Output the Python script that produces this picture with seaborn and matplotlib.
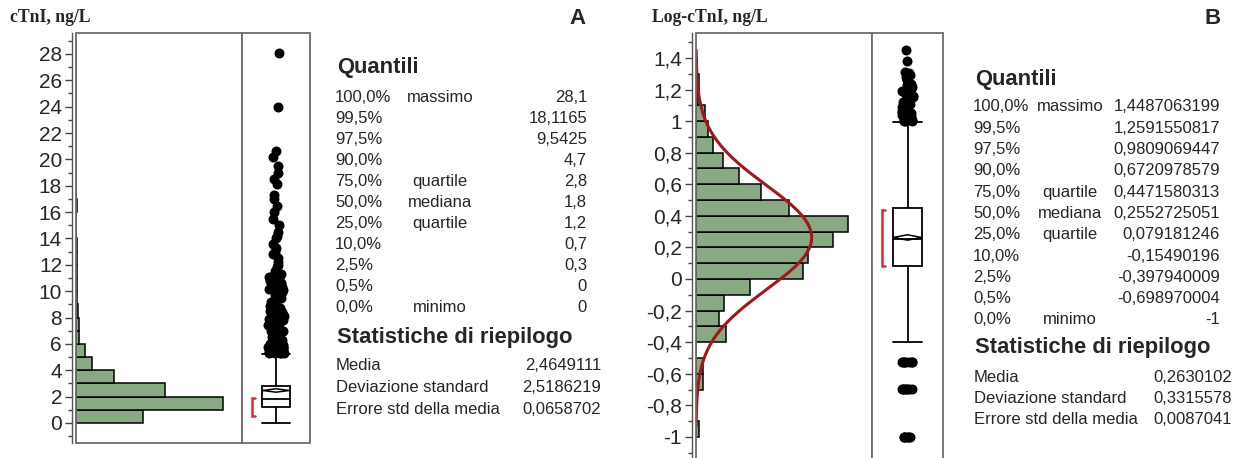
import numpy as np
import matplotlib
matplotlib.use("Agg")
import matplotlib.pyplot as plt
import seaborn as sns
from matplotlib.patches import Rectangle
from matplotlib.ticker import MultipleLocator, FuncFormatter, FixedLocator

np.random.seed(7)

# ---------------- Data: panel A (cTnI, ng/L) ----------------
a_bin_edges = list(range(0, 30))
a_counts = [258, 568, 344, 148, 63, 35, 12, 11, 8, 4, 2, 2, 2, 2, 0, 0, 4, 1, 1, 1,
            1, 0, 0, 0, 1, 0, 0, 0, 1]
a_q1, a_median, a_q3 = 1.2, 1.8, 2.8
a_whisker_lo, a_whisker_hi = 0.0, 5.2
a_mean, a_sem = 2.4649111, 0.0658702
a_shortest_half = (0.5, 1.9)
a_outliers = [5.3, 5.3, 5.3, 5.3, 5.3, 5.4, 5.4, 5.4, 5.4, 5.5, 5.5, 5.5, 5.5, 5.6, 5.6,
              5.6, 5.7, 5.7, 5.7, 5.8, 5.8, 5.8, 5.9, 5.9, 5.9, 6.0, 6.0, 6.0, 6.0, 6.1,
              6.1, 6.2, 6.2, 6.2, 6.3, 6.3, 6.4, 6.4, 6.5, 6.5, 6.6, 6.6, 6.7, 6.7, 6.8,
              6.8, 6.9, 7.0, 7.0, 7.0, 7.1, 7.2, 7.2, 7.3, 7.4, 7.4, 7.5, 7.5, 7.6, 7.7,
              7.8, 7.8, 7.9, 8.0, 8.0, 8.0, 8.1, 8.2, 8.3, 8.3, 8.4, 8.5, 8.5, 8.6, 8.7,
              8.8, 8.9, 9.0, 9.0, 9.1, 9.2, 9.3, 9.4, 9.5, 9.5, 9.6, 9.7, 9.8, 9.9,
              10.0, 10.0, 10.1, 10.2, 10.3, 10.4, 10.5, 10.6, 10.7, 10.8, 11.0, 11.1,
              11.2, 11.3, 11.5, 11.8, 12.0, 12.2, 12.5, 12.8, 13.0, 13.3, 13.6, 14.0,
              14.2, 14.5, 15.0, 15.5, 16.0, 16.5, 17.0, 17.3, 18.1, 18.5, 19.0, 19.5,
              20.2, 20.6, 24.0, 28.1]

# ---------------- Data: panel B (Log-cTnI) ----------------
b_bin_edges = [-1.0, -0.9, -0.8, -0.7, -0.6, -0.5, -0.4, -0.3, -0.2, -0.1, 0.0, 0.1,
               0.2, 0.3, 0.4, 0.5, 0.6, 0.7, 0.8, 0.9, 1.0, 1.1, 1.2, 1.3, 1.4]
b_counts = [4, 0, 0, 10, 10, 0, 45, 34, 42, 81, 161, 169, 207, 230, 141, 98, 65, 40,
            26, 18, 13, 3, 5, 2]
b_q1, b_median, b_q3 = 0.079181246, 0.2552725051, 0.4471580313
b_whisker_lo, b_whisker_hi = -0.397940009, 0.9912
b_mean, b_sd, b_sem = 0.2630102, 0.3315578, 0.0087041
b_shortest_half = (0.08, 0.44)
b_outliers = [1.0, 1.0, 1.0, 1.0043, 1.0043, 1.0086, 1.0128, 1.0170, 1.0212, 1.0212,
              1.0294, 1.0334, 1.0414, 1.0414, 1.0453, 1.0531, 1.0607, 1.0645, 1.0719,
              1.0792, 1.0828, 1.0864, 1.0969, 1.1072, 1.1139, 1.1239, 1.1335, 1.1461,
              1.1523, 1.1614, 1.1761, 1.1903, 1.2041, 1.2175, 1.2304, 1.2380, 1.2577,
              1.2672, 1.2788, 1.2900, 1.3054, 1.3139, 1.3802, 1.4487,
              -0.5229, -0.5229, -0.5229, -0.5229, -0.5229, -0.5229, -0.5229,
              -0.6990, -0.6990, -0.6990, -0.6990, -0.6990, -0.6990, -0.6990,
              -1.0, -1.0, -1.0, -1.0, -1.0, -1.0]

# ---------------- Text tables ----------------
q_pct = ["100,0%", "99,5%", "97,5%", "90,0%", "75,0%", "50,0%", "25,0%", "10,0%",
         "2,5%", "0,5%", "0,0%"]
q_name = ["massimo", "", "", "", "quartile", "mediana", "quartile", "", "", "", "minimo"]
a_q_val = ["28,1", "18,1165", "9,5425", "4,7", "2,8", "1,8", "1,2", "0,7", "0,3", "0", "0"]
b_q_val = ["1,4487063199", "1,2591550817", "0,9809069447", "0,6720978579",
           "0,4471580313", "0,2552725051", "0,079181246", "-0,15490196",
           "-0,397940009", "-0,698970004", "-1"]
s_name = ["Media", "Deviazione standard", "Errore std della media"]
a_s_val = ["2,4649111", "2,5186219", "0,0658702"]
b_s_val = ["0,2630102", "0,3315578", "0,0087041"]
b_major_ticks = [-1.0, -0.8, -0.6, -0.4, -0.2, 0.0, 0.2, 0.4, 0.6, 0.8, 1.0, 1.2, 1.4]

# ---------------- Style ----------------
sns.set_style("white")
plt.rcParams["font.family"] = ["Liberation Sans", "DejaVu Sans"]

W, H = 1244, 458
fig = plt.figure(figsize=(W / 100, H / 100), dpi=100)

BAR = "#88a984"
FRAME = "#6c6c6c"
CURVE = "#a3161b"
RED = "#dd2a2f"


def add_ax(x0, ytop, x1, ybot, **kw):
    return fig.add_axes([x0 / W, 1 - ybot / H, (x1 - x0) / W, (ybot - ytop) / H], **kw)


def frame(ax):
    for s in ax.spines.values():
        s.set_visible(False)
    ax.add_patch(Rectangle((0, 0), 1, 1, transform=ax.transAxes, fill=False,
                           ec=FRAME, lw=1.3, clip_on=False, zorder=10))


def comma_fmt(v, pos):
    v = round(v, 6)
    if abs(v) < 1e-9:
        return "0"
    return ("%g" % v).replace(".", ",")


def style_hist(ax, major, minor):
    frame(ax)
    ax.spines["left"].set_visible(True)
    ax.spines["left"].set_position(("outward", 3))
    ax.spines["left"].set_color("#555555")
    ax.spines["left"].set_linewidth(1.0)
    if isinstance(major, list):
        ax.yaxis.set_major_locator(FixedLocator(major))
    else:
        ax.yaxis.set_major_locator(MultipleLocator(major))
    ax.yaxis.set_minor_locator(MultipleLocator(minor))
    ax.yaxis.set_major_formatter(FuncFormatter(comma_fmt))
    ax.tick_params(axis="y", which="major", direction="out", length=5, width=1.0,
                   color="#444444", labelsize=15, pad=2, left=True)
    ax.tick_params(axis="y", which="minor", direction="out", length=3, width=1.0,
                   color="#444444", left=True)
    ax.set_xticks([])
    ax.set_xlabel("")
    ax.set_ylabel("")


def style_box(ax):
    frame(ax)
    ax.set_xlim(-0.5, 0.5)
    ax.set_xticks([])
    ax.tick_params(axis="y", which="both", left=False, labelleft=False)
    ax.set_xlabel("")
    ax.set_ylabel("")


def draw_box(ax, q1, med, q3, lo, hi, mean, sem, half, outliers, dense_range,
             jit_dense, jit_sparse, size):
    dense = [v for v in outliers if dense_range[0] <= v <= dense_range[1]]
    sparse = [v for v in outliers if not (dense_range[0] <= v <= dense_range[1])]
    sns.stripplot(y=dense, ax=ax, color="black", size=size, jitter=jit_dense,
                  linewidth=0, zorder=2)
    sns.stripplot(y=sparse, ax=ax, color="black", size=size, jitter=jit_sparse,
                  linewidth=0, zorder=2)
    stats = [dict(med=med, q1=q1, q3=q3, whislo=lo, whishi=hi, fliers=[])]
    lw = 1.3
    ax.bxp(stats, positions=[0], widths=0.4, capwidths=0.42, patch_artist=True,
           showfliers=False, manage_ticks=False,
           boxprops=dict(facecolor="white", edgecolor="black", linewidth=lw),
           whiskerprops=dict(color="black", linewidth=lw),
           capprops=dict(color="black", linewidth=lw),
           medianprops=dict(color="black", linewidth=lw), zorder=3)
    ci = 1.96 * sem
    ax.plot([-0.2, 0, 0.2, 0, -0.2], [mean, mean + ci, mean, mean - ci, mean],
            color="black", lw=1.1, zorder=4)
    xb, d = -0.36, 0.05
    ax.plot([xb + d, xb, xb, xb + d], [half[0], half[0], half[1], half[1]],
            color=RED, lw=1.8, zorder=4, solid_joinstyle="miter")


# ---------------- Panel A ----------------
axA = add_ax(76, 33, 242, 443)
a_centers = [e + 0.5 for e in a_bin_edges[:-1]]
sns.histplot(y=a_centers, weights=a_counts, bins=a_bin_edges, ax=axA, color=BAR,
             edgecolor="black", linewidth=1.1, alpha=1)
axA.set_ylim(-1.52, 29.59)
axA.set_xlim(0, 642)
style_hist(axA, 2, 1)

axAb = add_ax(242, 33, 310, 443)
axAb.set_ylim(-1.52, 29.59)
draw_box(axAb, a_q1, a_median, a_q3, a_whisker_lo, a_whisker_hi, a_mean, a_sem,
         a_shortest_half, a_outliers, (5.0, 11.5), 0.12, 0.05, 7.2)
axAb.set_ylim(-1.52, 29.59)
style_box(axAb)

# ---------------- Panel B ----------------
axB = add_ax(696, 33, 872, 480)
b_centers = [round(e + 0.05, 3) for e in b_bin_edges[:-1]]
sns.histplot(y=b_centers, weights=b_counts, bins=b_bin_edges, ax=axB, color=BAR,
             edgecolor="black", linewidth=1.1, alpha=1)
b_n = (b_sd / b_sem) ** 2
yy = np.linspace(-0.93, 1.45, 300)
xx = b_n * 0.1 * np.exp(-0.5 * ((yy - b_mean) / b_sd) ** 2) / (b_sd * np.sqrt(2 * np.pi))
sns.lineplot(x=xx, y=yy, orient="y", ax=axB, color=CURVE, lw=2.2, errorbar=None,
             zorder=5)
axB.set_ylim(-1.273, 1.558)
axB.set_xlim(0, 265.6)
style_hist(axB, b_major_ticks, 0.1)

axBb = add_ax(872, 33, 943, 480)
axBb.set_ylim(-1.273, 1.558)
draw_box(axBb, b_q1, b_median, b_q3, b_whisker_lo, b_whisker_hi, b_mean, b_sem,
         b_shortest_half, b_outliers, (-1.1, 1.25), 0.08, 0.04, 7.2)
axBb.set_ylim(-1.273, 1.558)
style_box(axBb)


# ---------------- Texts ----------------
def T(x, y, s, **kw):
    fig.text(x / W, 1 - y / H, s, **kw)


serif = ["Liberation Serif", "DejaVu Serif"]
T(10, 18, "cTnI, ng/L", fontsize=12.7, fontweight="bold", family=serif, va="center")
T(652, 18, "Log-cTnI, ng/L", fontsize=12.7, fontweight="bold", family=serif, va="center")
T(578, 18, "A", fontsize=16, fontweight="bold", va="center", ha="center")
T(1213, 18, "B", fontsize=16, fontweight="bold", va="center", ha="center")


def table(x_left, y_head, y_row0, dy, x_name, x_val, q_vals, y_stat, y_s0, dys,
          x_sval, s_vals):
    T(x_left + 2, y_head, "Quantili", fontsize=15.8, fontweight="bold", va="center")
    for i in range(len(q_pct)):
        y = y_row0 + dy * i
        T(x_left, y, q_pct[i], fontsize=12, va="center")
        if q_name[i]:
            T(x_name, y, q_name[i], fontsize=12, va="center", ha="center")
        T(x_val, y, q_vals[i], fontsize=12, va="center", ha="right")
    T(x_left + 2, y_stat, "Statistiche di riepilogo", fontsize=15.8,
      fontweight="bold", va="center")
    for i in range(len(s_name)):
        y = y_s0 + dys * i
        T(x_left + 1, y, s_name[i], fontsize=12, va="center")
        T(x_sval, y, s_vals[i], fontsize=12, va="center", ha="right")


table(335, 68, 97, 21.1, 440, 587, a_q_val, 338, 366, 21.5, 601, a_s_val)
table(973, 80, 107, 21.3, 1070, 1220, b_q_val, 348, 378, 20.5, 1232, b_s_val)

fig.savefig("out.png", dpi=100)
